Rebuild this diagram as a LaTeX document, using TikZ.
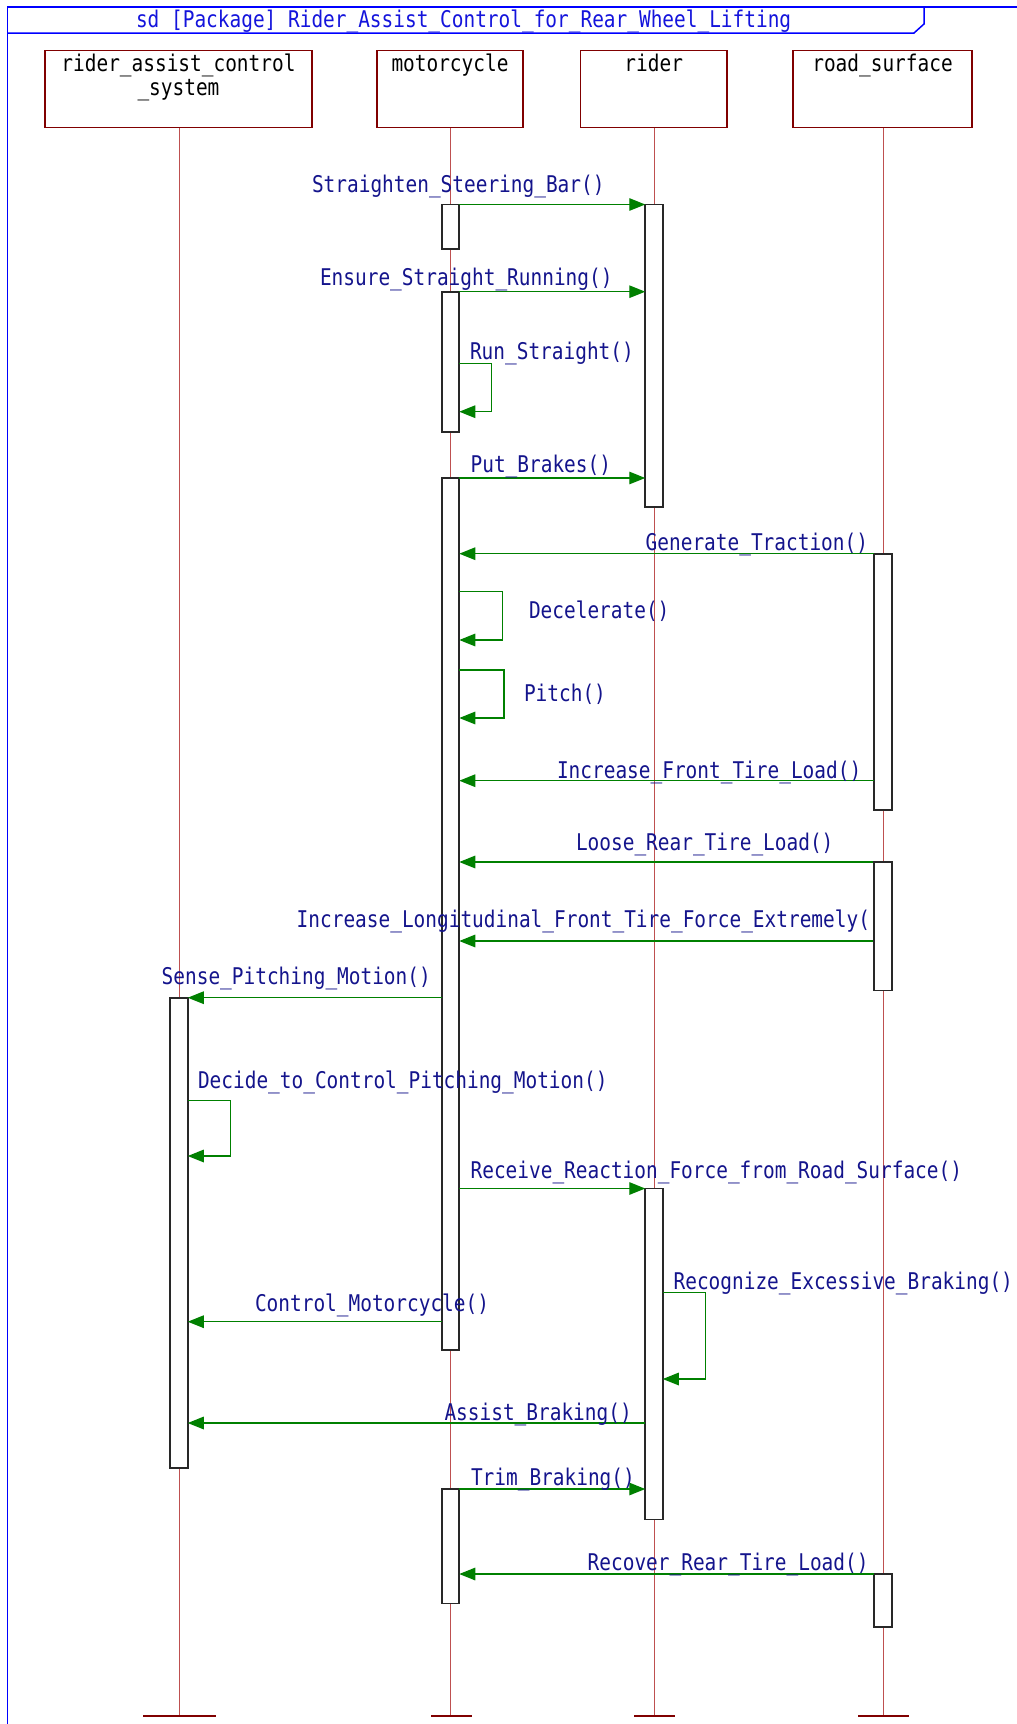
\documentclass[tikz,border=0pt]{standalone}
\usepackage{fontspec}
\newfontfamily\gothic[FakeStretch=0.845]{DejaVu Sans Mono}
\usetikzlibrary{arrows.meta,calc}
\definecolor{framec}{RGB}{0,0,255}
\definecolor{titlec}{RGB}{20,20,220}
\definecolor{labc}{RGB}{20,20,140}
\definecolor{msgc}{RGB}{0,128,0}
\definecolor{headc}{RGB}{128,0,0}
\definecolor{lifec}{RGB}{190,80,80}
\definecolor{actc}{RGB}{40,40,40}
\begin{document}
\begin{tikzpicture}[x=1pt,y=-1pt,
 every node/.style={inner sep=0pt, outer sep=0pt},
 txt/.style={font=\gothic\fontsize{23}{23.5}\selectfont},
 lab/.style={txt, text=labc, anchor=base west},
 head/.style={draw=headc, line width=1.5pt, fill=white, anchor=north west},
 headtext/.style={txt, text=black, anchor=base},
 act/.style={draw=actc, line width=1.6pt, fill=white, minimum width=17.5pt, anchor=north},
 msg/.style={draw=msgc, line width=1.4pt, -{Triangle[length=16pt,width=12.5pt]}},
 life/.style={draw=lifec, line width=0.8pt},
 endbar/.style={draw=headc, line width=2pt},
 frame/.style={draw=framec, line width=1.5pt},
]
\useasboundingbox (0,0) rectangle (1017,1724);
\clip (0,0) rectangle (1017,1724);
\fill[white] (0,0) rectangle (1017,1724);

% frame
\draw[frame] (7.5,1760) -- (7.5,7) -- (1040,7);
\draw[frame] (7.5,33) -- (914,33) -- (924,24) -- (924,7);
\node[txt, text=titlec, anchor=base west] (T) at (136,27) {sd [Package] Rider\_Assist\_Control\_for\_Rear\_Wheel\_Lifting};

% heads
\node[head, minimum width=267pt, minimum height=77pt] (H1) at (45,50.7) {};
\node[head, minimum width=146pt, minimum height=77pt] (H2) at (377,50.7) {};
\node[head, minimum width=146.5pt, minimum height=77pt] (H3) at (580.5,50.7) {};
\node[head, minimum width=179pt, minimum height=77pt] (H4) at (793,50.7) {};
\node[headtext] (H1a) at (178.5,71.7) {rider\_assist\_control};
\node[headtext] (H1b) at (178.5,95) {\_system};
\node[headtext] (H2a) at (450,71.7) {motorcycle};
\node[headtext] (H3a) at (653.7,71.7) {rider};
\node[headtext] (H4a) at (882.5,71.7) {road\_surface};

% lifelines
\coordinate (E1) at (179,1716);
\coordinate (E2) at (450.5,1716);
\coordinate (E3) at (654,1716);
\coordinate (E4) at (883,1716);
\draw[life] (H1.south -| E1) -- (E1);
\draw[life] (H2.south -| E2) -- (E2);
\draw[life] (H3.south -| E3) -- (E3);
\draw[life] (H4.south -| E4) -- (E4);
\draw[endbar] (143,1716) -- (216,1716);
\draw[endbar] (431,1716) -- (472,1716);
\draw[endbar] (634,1716) -- (675,1716);
\draw[endbar] (858,1716) -- (909,1716);

% activations
\node[act, minimum height=44.5pt] (mA) at (450.5,204.5) {};
\node[act, minimum height=302.5pt] (rA) at (654,204.5) {};
\node[act, minimum height=140.3pt] (mB) at (450.5,291.7) {};
\node[act, minimum height=872pt] (mC) at (450.5,478) {};
\node[act, minimum height=256.3pt] (rdA) at (883,553.7) {};
\node[act, minimum height=470.3pt] (raA) at (179,997.7) {};
\node[act, minimum height=330.8pt] (rB) at (654,1188.5) {};
\node[act, minimum height=114.3pt] (mD) at (450.5,1489) {};
\node[act, minimum height=53pt] (rdC) at (883,1574) {};

% messages
\draw[msg] (mA.north east) -- (rA.north west);
\node[lab] (l1) at (312,192.5) {Straighten\_Steering\_Bar()};

\draw[msg] (mB.north east) -- (rA.west |- mB.north);
\node[lab] (l2) at (320,285) {Ensure\_Straight\_Running()};

\draw[msg] (mB.east |- 0,363.3) -- (491.7,363.3) -- (491.7,411.7) -- (mB.east |- 0,411.7);
\node[lab] (l3) at (470,359.3) {Run\_Straight()};

\draw[msg] (mC.north east) -- (rA.west |- mC.north);
\node[lab] (l4) at (470.6,472.5) {Put\_Brakes()};

\draw[msg] (rdA.north west) -- (mC.east |- rdA.north);
\node[lab] (l5) at (645.7,550) {Generate\_Traction()};

\draw[msg] (mC.east |- 0,591.7) -- (502.3,591.7) -- (502.3,640) -- (mC.east |- 0,640);
\node[lab] (l6) at (529,618) {Decelerate()};

\draw[msg] (mC.east |- 0,670) -- (504,670) -- (504,718) -- (mC.east |- 0,718);
\node[lab] (l7) at (524,701) {Pitch()};

\draw[msg] (rdA.west |- 0,780.7) -- (mC.east |- 0,780.7);
\node[lab] (l8) at (557,778) {Increase\_Front\_Tire\_Load()};

\coordinate (rdBtop) at (883,862);
\draw[msg] (rdBtop) ++(-8.75,0) -- (mC.east |- rdBtop);
\node[lab] (l9) at (576,850.5) {Loose\_Rear\_Tire\_Load()};

\draw[msg] (874.25,941) -- (mC.east |- 0,941);
\node[lab] (l10) at (296.7,927) {Increase\_Longitudinal\_Front\_Tire\_Force\_Extremely()};

\draw[msg] (mC.west |- raA.north) -- (raA.north east);
\node[lab] (l11) at (161.7,984) {Sense\_Pitching\_Motion()};

\draw[msg] (raA.east |- 0,1100.7) -- (230.7,1100.7) -- (230.7,1156) -- (raA.east |- 0,1156);
\node[lab] (l12) at (198,1088) {Decide\_to\_Control\_Pitching\_Motion()};

\draw[msg] (mC.east |- rB.north) -- (rB.north west);
\node[lab] (l13) at (470.6,1178) {Receive\_Reaction\_Force\_from\_Road\_Surface()};

\draw[msg] (rB.east |- 0,1292.7) -- (705.5,1292.7) -- (705.5,1379) -- (rB.east |- 0,1379);
\node[lab] (l14) at (673.6,1289) {Recognize\_Excessive\_Braking()};

\draw[msg] (mC.west |- 0,1321.7) -- (raA.east |- 0,1321.7);
\node[lab] (l15) at (255,1311) {Control\_Motorcycle()};

\draw[msg] (rB.west |- 0,1423) -- (raA.east |- 0,1423);
\node[lab] (l16) at (444.5,1420) {Assist\_Braking()};

\draw[msg] (mD.north east) -- (rB.west |- mD.north);
\node[lab] (l17) at (471,1485.7) {Trim\_Braking()};

\draw[msg] (rdC.north west) -- (mD.east |- rdC.north);
\node[lab] (l18) at (587.7,1570.7) {Recover\_Rear\_Tire\_Load()};

% road activation drawn last (covers label end)
\node[act, minimum height=128.6pt] (rdB) at (rdBtop) {};
\end{tikzpicture}
\end{document}
